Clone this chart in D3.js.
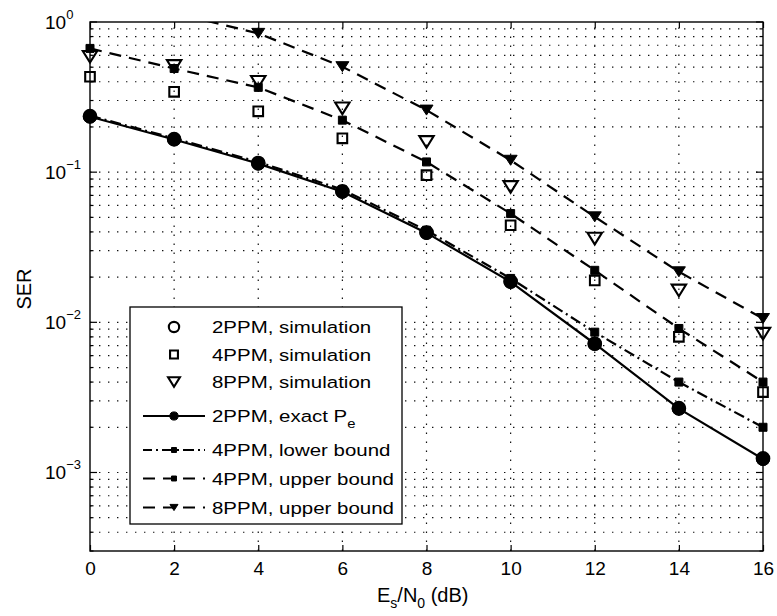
<!DOCTYPE html>
<html>
<head>
<meta charset="utf-8">
<script src="https://cdn.jsdelivr.net/npm/d3@7"></script>
<style>
  html, body { margin: 0; padding: 0; background: #fff; }
  svg { display: block; font-family: "Liberation Sans", Arial, Helvetica, sans-serif; }
</style>
</head>
<body>
<svg id="chart" width="777" height="616"></svg>
<script>
// ---------------- data ----------------
const snrDb = [0, 2, 4, 6, 8, 10, 12, 14, 16];
const ser2Exact = [0.234, 0.165, 0.114, 0.074, 0.0394, 0.0186, 0.0072, 0.00266, 0.00123];
const ser2Sim   = [0.236, 0.166, 0.115, 0.0745, 0.0396, 0.0187, 0.0072, 0.00268, 0.00124];
const ser4Sim   = [0.432, 0.343, 0.254, 0.168, 0.0955, 0.0443, 0.019, 0.0080, 0.00343];
const ser8Sim   = [0.587, 0.51, 0.40, 0.266, 0.159, 0.0798, 0.0361, 0.0163, 0.0084];
const ser4Lower = [0.238, 0.168, 0.117, 0.0765, 0.041, 0.0196, 0.0086, 0.0040, 0.0020];
const ser4Upper = [0.667, 0.49, 0.367, 0.222, 0.117, 0.053, 0.0222, 0.0091, 0.0040];
const ser8Upper = [1.55, 1.15, 0.84, 0.504, 0.259, 0.12, 0.0504, 0.0217, 0.0106];

const xTicks = [0, 2, 4, 6, 8, 10, 12, 14, 16];
const yDecades = [1, 0.1, 0.01, 0.001];
const yDecadeExponents = ["0", "\u22121", "\u22122", "\u22123"];
const legendLabels = [
  "2PPM, simulation",
  "4PPM, simulation",
  "8PPM, simulation",
  "2PPM, exact P",
  "4PPM, lower bound",
  "4PPM, upper bound",
  "8PPM, upper bound"
];
const yLabel = "SER";

// ---------------- setup ----------------
const svg = d3.select("#chart");
const L = 90, R = 763, T = 22, B = 551;
const x = d3.scaleLinear().domain([0, 16]).range([L, R]);
const y = d3.scaleLog().domain([3e-4, 1]).range([B, T]);

// minor grid values
const minorVals = [];
[1e-4, 1e-3, 1e-2, 1e-1].forEach(d => {
  for (let k = 1; k <= 9; k++) {
    const v = d * k;
    if (v >= 3e-4 - 1e-12 && v <= 1) minorVals.push(v);
  }
});
minorVals.push(1);

// ---------------- grid ----------------
const grid = svg.append("g").attr("stroke", "#111").attr("stroke-width", 1.2)
  .attr("stroke-dasharray", "1.4,7.6");
grid.selectAll("line.h").data(minorVals.filter(v => v < 0.999 && v > 3.01e-4)).join("line")
  .attr("x1", L).attr("x2", R).attr("y1", d => y(d)).attr("y2", d => y(d));
grid.selectAll("line.v").data(xTicks.filter(t => t > 0 && t < 16)).join("line")
  .attr("class", "v")
  .attr("y1", B).attr("y2", T).attr("x1", d => x(d)).attr("x2", d => x(d));

// ---------------- data ----------------
svg.append("defs").append("clipPath").attr("id", "clip")
  .append("rect").attr("x", L).attr("y", T).attr("width", R - L).attr("height", B - T);

const plot = svg.append("g").attr("clip-path", "url(#clip)");
const line = d3.line().x((d, i) => x(snrDb[i])).y(d => y(d));

const series = [
  { vals: ser2Exact, dash: null, marker: "circleF" },
  { vals: ser4Lower, dash: "11,4,2,4", marker: "squareF" },
  { vals: ser4Upper, dash: "12,8", marker: "squareF" },
  { vals: ser8Upper, dash: "12,8", marker: "triF" },
  { vals: ser2Sim, dash: null, marker: "circleO", noLine: true },
  { vals: ser4Sim, dash: null, marker: "squareO", noLine: true },
  { vals: ser8Sim, dash: null, marker: "triO", noLine: true }
];

function markerPath(type, s) {
  // s = scale factor
  switch (type) {
    case "circleF": case "circleO": {
      const r = (type === "circleF" ? 6.6 : 6.3) * s;
      return `M${-r},0A${r},${r} 0 1,0 ${r},0A${r},${r} 0 1,0 ${-r},0Z`;
    }
    case "squareF": { const h = 4 * s; return `M${-h},${-h}H${h}V${h}H${-h}Z`; }
    case "squareO": { const h = 4.8 * s; return `M${-h},${-h}H${h}V${h}H${-h}Z`; }
    case "triF": { const w = 6.5 * s, h = 5 * s; return `M${-w},${-h}H${w}L0,${h}Z`; }
    case "triO": { const w = 7.2 * s, h = 5.8 * s; return `M${-w},${-h}H${w}L0,${h}Z`; }
  }
}
function styleMarker(sel, type) {
  const filled = type.endsWith("F");
  sel.attr("fill", filled ? "#000" : "none")
     .attr("stroke", "#000")
     .attr("stroke-width", filled ? 1 : 2.1)
     .attr("stroke-linejoin", "miter");
}

series.filter(s => !s.noLine).forEach(s => {
  plot.append("path").datum(s.vals).attr("d", line)
    .attr("fill", "none").attr("stroke", "#000").attr("stroke-width", 2.2)
    .attr("stroke-dasharray", s.dash);
});
series.forEach(s => {
  const g = svg.append("g");
  g.selectAll("path").data(s.vals.map((v, i) => [snrDb[i], v]).filter(d => d[1] <= 1))
    .join("path")
    .attr("transform", d => `translate(${x(d[0])},${y(d[1])})`)
    .attr("d", markerPath(s.marker, 1))
    .call(styleMarker, s.marker);
});

// ---------------- frame & ticks ----------------
svg.append("rect").attr("x", L).attr("y", T).attr("width", R - L).attr("height", B - T)
  .attr("fill", "none").attr("stroke", "#000").attr("stroke-width", 1.4);

const xAxis = d3.axisBottom(x).tickValues(xTicks).tickSizeInner(-6).tickSizeOuter(0)
  .tickPadding(11).tickFormat(d3.format("d"));
const gx = svg.append("g").attr("transform", `translate(0,${B})`).call(xAxis);
gx.select(".domain").remove();
gx.selectAll("line").attr("stroke", "#000").attr("stroke-width", 1.2);
gx.selectAll("text").attr("font-size", 19).attr("fill", "#000")
  .attr("font-family", "Liberation Sans, Arial, sans-serif");

const xAxisTop = d3.axisTop(x).tickValues(xTicks).tickSizeInner(-6).tickSizeOuter(0).tickFormat("");
const gxt = svg.append("g").attr("transform", `translate(0,${T})`).call(xAxisTop);
gxt.select(".domain").remove();
gxt.selectAll("line").attr("stroke", "#000").attr("stroke-width", 1.2);

// y ticks (major + minor, both sides)
const yt = svg.append("g").attr("stroke", "#000").attr("stroke-width", 1.2);
minorVals.forEach(v => {
  const isMajor = yDecades.some(d => Math.abs(d - v) / d < 1e-6);
  const len = isMajor ? 7 : 3.5;
  yt.append("line").attr("x1", L).attr("x2", L + len).attr("y1", y(v)).attr("y2", y(v));
  yt.append("line").attr("x1", R).attr("x2", R - len).attr("y1", y(v)).attr("y2", y(v));
});

// y tick labels 10^n
yDecades.forEach((d, i) => {
  const t = svg.append("text").attr("x", 45).attr("y", y(d) + 7)
    .attr("font-size", 19).attr("fill", "#000");
  t.append("tspan").text("10");
  t.append("tspan").attr("font-size", 13).attr("dy", -10).text(yDecadeExponents[i]);
});

// axis labels
svg.append("text").attr("transform", `translate(31,289) rotate(-90)`)
  .attr("text-anchor", "middle").attr("font-size", 20).attr("fill", "#000").text(yLabel);

const xl = svg.append("text").attr("x", 377).attr("y", 602).attr("font-size", 20).attr("fill", "#000");
xl.append("tspan").text("E");
xl.append("tspan").attr("font-size", 14).attr("dy", 6).text("s");
xl.append("tspan").attr("dy", -6).text("/N");
xl.append("tspan").attr("font-size", 14).attr("dy", 6).text("0");
xl.append("tspan").attr("dy", -6).text(" (dB)");

// ---------------- legend ----------------
const lg = svg.append("g");
lg.append("rect").attr("x", 130).attr("y", 307).attr("width", 272).attr("height", 217)
  .attr("fill", "#fff").attr("stroke", "#000").attr("stroke-width", 1.3);
const legendY = [327, 354.5, 382, 416, 450, 478.5, 507.5];
const legendStyle = [
  { marker: "circleO", dash: null, line: false },
  { marker: "squareO", dash: null, line: false },
  { marker: "triO", dash: null, line: false },
  { marker: "circleF", dash: null, line: true },
  { marker: "squareF", dash: "11,4,2,4", line: true },
  { marker: "squareF", dash: "12,8", line: true },
  { marker: "triF", dash: "12,8", line: true }
];
legendLabels.forEach((lab, i) => {
  const cy = legendY[i], st = legendStyle[i];
  if (st.line) {
    lg.append("line").attr("x1", 143).attr("x2", 205).attr("y1", cy).attr("y2", cy)
      .attr("stroke", "#000").attr("stroke-width", 2.2)
      .attr("stroke-dasharray", st.dash)
      .attr("stroke-dashoffset", st.dash === "12,8" ? 0 : (st.dash ? 2 : 0));
  }
  const scale = st.marker.endsWith("F") ? 0.62 : 0.82;
  lg.append("path").attr("transform", `translate(174,${cy})`)
    .attr("d", markerPath(st.marker, scale)).call(styleMarker, st.marker);
  const t = lg.append("text").attr("transform", `translate(212,${cy + 6}) scale(1.24,1)`)
    .attr("font-size", 16.5).attr("fill", "#000");
  t.append("tspan").text(lab);
  if (i === 3) t.append("tspan").attr("font-size", 12).attr("dy", 6).text("e");
});
</script>
</body>
</html>
